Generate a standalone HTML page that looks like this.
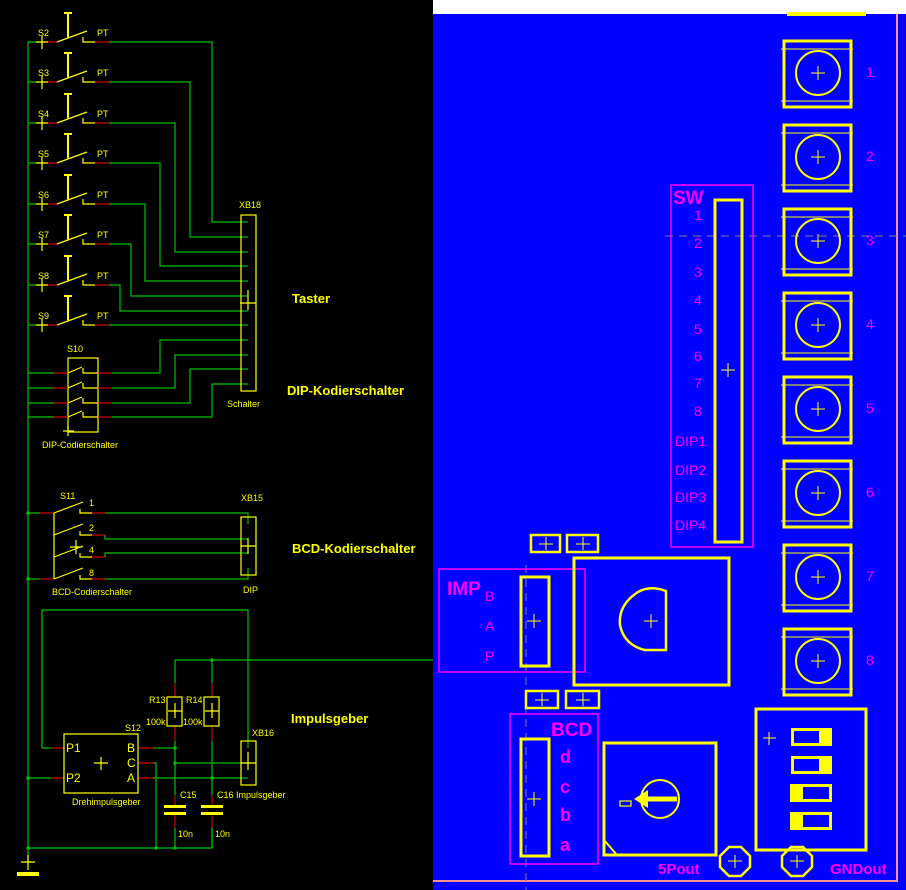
<!DOCTYPE html>
<html><head><meta charset="utf-8"><style>
html,body{margin:0;padding:0;background:#000;}
svg{display:block;}
text{font-family:"Liberation Sans",sans-serif;}
.y{fill:#ffff00;font-size:9px;}
.big{fill:#ffff00;font-size:13px;font-weight:bold;}
.m{fill:#ff00ff;font-size:14px;}
.mb{fill:#ff00ff;font-size:19px;font-weight:bold;}
</style></head><body>
<svg width="906" height="890" viewBox="0 0 906 890" xmlns="http://www.w3.org/2000/svg">
<rect width="906" height="890" fill="#000"/>
<!-- ===== Schematic ===== -->
<g fill="none" stroke-width="1.2">
<!-- ground rail -->
<path d="M28 42 V862" stroke="#00c000"/>
<path d="M28 42 H42" stroke="#00c000"/>
<path d="M28 848 H212 V826" stroke="#00c000"/>
<path d="M28 855 V862" stroke="#d00000"/>
</g>
<rect x="17" y="872" width="22" height="4" fill="#ffff00"/>
<path d="M28 855 V870 M21 862 H35" stroke="#ffff00" stroke-width="1.2"/>

<!-- pushbuttons -->
<g id="pb">
<g stroke-width="1.2" fill="none">
<path d="M28 42 H42" stroke="#00c000"/>
<path d="M42 36 V49 M36 42 H48" stroke="#ffff00"/>
<path d="M48 42 H57" stroke="#d00000"/>
<path d="M57 42 L87 31 M83 37 V42 H95" stroke="#ffff00"/>
<path d="M68 13 V38 M64 13 H72" stroke="#ffff00" stroke-width="2"/>
<path d="M95 42 H109" stroke="#d00000"/>
</g>
</g>
<use href="#pb" y="40"/><use href="#pb" y="81"/><use href="#pb" y="121"/><use href="#pb" y="162"/><use href="#pb" y="202"/><use href="#pb" y="243"/><use href="#pb" y="283"/>
<g class="y">
<text x="38" y="36">S2</text><text x="97" y="36">PT</text>
<text x="38" y="76">S3</text><text x="97" y="76">PT</text>
<text x="38" y="117">S4</text><text x="97" y="117">PT</text>
<text x="38" y="157">S5</text><text x="97" y="157">PT</text>
<text x="38" y="198">S6</text><text x="97" y="198">PT</text>
<text x="38" y="238">S7</text><text x="97" y="238">PT</text>
<text x="38" y="279">S8</text><text x="97" y="279">PT</text>
<text x="38" y="319">S9</text><text x="97" y="319">PT</text>
</g>
<g fill="none" stroke="#00c000" stroke-width="1.2">
<path d="M109 42 H212 V222 H248"/>
<path d="M109 82 H190 V237 H248"/>
<path d="M109 123 H175 V252 H248"/>
<path d="M109 163 H160 V266 H248"/>
<path d="M109 204 H145 V281 H248"/>
<path d="M109 244 H131 V296 H248"/>
<path d="M109 285 H120 V311 H248"/>
<path d="M109 325 H248"/>
<path d="M112 373 H160 V340 H248"/>
<path d="M112 388 H175 V355 H248"/>
<path d="M112 403 H190 V369 H248"/>
<path d="M112 417 H212 V384 H248"/>
<path d="M28 373 H54 M28 388 H54 M28 403 H54 M28 417 H54"/>
</g>
<rect x="241" y="215" width="15" height="176" fill="none" stroke="#ffff00" stroke-width="1.2"/>
<path d="M248 290 V310 M240 303 H256" stroke="#ffff00" stroke-width="1.2"/>
<!-- S10 -->
<rect x="68" y="358" width="30" height="74" fill="none" stroke="#ffff00" stroke-width="1.2"/>
<g stroke-width="1.2" fill="none">
<path d="M54 373 H68 M54 388 H68 M54 403 H68 M54 417 H68 M98 373 H112 M98 388 H112 M98 403 H112 M98 417 H112" stroke="#d00000"/>
<path d="M68 373 L82 367 M83 368 V373 H98 M68 388 L82 382 M83 383 V388 H98 M68 403 L82 397 M83 398 V403 H98 M68 417 L82 411 M83 412 V417 H98 M68 426 V436 M63 431 H74" stroke="#ffff00"/>
</g>
<g class="y">
<text x="67" y="352">S10</text>
<text x="239" y="208">XB18</text>
<text x="227" y="407">Schalter</text>
<text x="42" y="448">DIP-Codierschalter</text>
</g>
<text class="big" x="292" y="303">Taster</text>
<text class="big" x="287" y="395">DIP-Kodierschalter</text>

<!-- S11 BCD -->
<g fill="none" stroke-width="1.2">
<path d="M28 513 H40 M28 579 H40" stroke="#00c000"/>
<path d="M40 513 H54 M40 579 H54 M92 513 H105 M92 535 H105 M92 557 H105 M92 579 H105" stroke="#d00000"/>
<path d="M54 513 V579 M54 513 L83 502 M80 509 V513 H92 M54 535 L83 524 M80 531 V535 H92 M54 557 L83 546 M80 553 V557 H92 M54 579 L83 568 M80 575 V579 H92 M76 540 V554 M70 547 H82" stroke="#ffff00"/>
<path d="M105 513 H248 V524 M105 535 V539 H248 M105 557 V553 H248 M105 579 H248 V568" stroke="#00c000"/>
</g>
<rect x="241" y="517" width="15" height="58" fill="none" stroke="#ffff00" stroke-width="1.2"/>
<path d="M248 538 V554 M241 546 H256" stroke="#ffff00" stroke-width="1.2"/>
<g class="y">
<text x="60" y="499">S11</text>
<text x="89" y="506">1</text><text x="89" y="531">2</text><text x="89" y="553">4</text><text x="89" y="576">8</text>
<text x="241" y="501">XB15</text>
<text x="243" y="593">DIP</text>
<text x="52" y="595">BCD-Codierschalter</text>
</g>
<text class="big" x="292" y="553">BCD-Kodierschalter</text>

<!-- Impulsgeber -->
<g fill="none" stroke-width="1.2">
<path d="M42 748 V610 H248 V748" stroke="#00c000"/>
<path d="M42 748 H51 M28 778 H51" stroke="#00c000"/>
<path d="M51 748 H64 M51 778 H64 M138 748 H153 M138 763 H153 M138 778 H153" stroke="#d00000"/>
<path d="M153 748 H175 M153 763 H156 V848 M153 778 H248 M175 763 H248" stroke="#00c000"/>
<path d="M175 660 H440 M175 660 V683 M212 660 V683 M175 741 V795 M212 741 V795 M175 828 V848 M212 828 V848" stroke="#00c000"/>
<path d="M175 683 V697 M212 683 V697 M175 726 V741 M212 726 V741 M175 795 V806 M212 795 V806 M175 814 V828 M212 814 V828" stroke="#d00000"/>
</g>
<rect x="64" y="734" width="74" height="59" fill="none" stroke="#ffff00" stroke-width="1.2"/>
<rect x="167" y="697" width="15" height="29" fill="none" stroke="#ffff00" stroke-width="1.2"/>
<rect x="204" y="697" width="15" height="29" fill="none" stroke="#ffff00" stroke-width="1.2"/>
<rect x="241" y="741" width="15" height="44" fill="none" stroke="#ffff00" stroke-width="1.2"/>
<path d="M248 752 V770 M241 763 H256 M175 703 V718 M168 711 H182 M212 703 V718 M205 711 H219 M101 757 V770 M94 763 H108" stroke="#ffff00" stroke-width="1.2"/>
<rect x="164" y="805" width="22" height="3" fill="#ffff00"/><rect x="164" y="812" width="22" height="3" fill="#ffff00"/>
<rect x="201" y="805" width="22" height="3" fill="#ffff00"/><rect x="201" y="812" width="22" height="3" fill="#ffff00"/>
<g fill="#00c000"><circle cx="28" cy="778" r="1.8"/><circle cx="175" cy="748" r="1.8"/><circle cx="175" cy="763" r="1.8"/><circle cx="212" cy="778" r="1.8"/><circle cx="212" cy="660" r="1.8"/><circle cx="28" cy="848" r="1.8"/><circle cx="156" cy="848" r="1.8"/><circle cx="175" cy="848" r="1.8"/><circle cx="28" cy="513" r="1.8"/><circle cx="28" cy="579" r="1.8"/></g>
<g class="y">
<text x="149" y="703">R13</text><text x="186" y="703">R14</text>
<text x="146" y="725">100k</text><text x="183" y="725">100k</text>
<text x="125" y="731">S12</text>
<text x="252" y="736">XB16</text>
<text x="180" y="798">C15</text><text x="217" y="798">C16</text>
<text x="236" y="798">Impulsgeber</text>
<text x="178" y="837">10n</text><text x="215" y="837">10n</text>
<text x="72" y="805">Drehimpulsgeber</text>
<text x="66" y="752" style="font-size:12px">P1</text><text x="66" y="782" style="font-size:12px">P2</text>
<text x="127" y="752" style="font-size:12px">B</text><text x="127" y="767" style="font-size:12px">C</text><text x="127" y="782" style="font-size:12px">A</text>
</g>
<text class="big" x="291" y="723">Impulsgeber</text>

<!-- ===== PCB ===== -->
<rect x="433" y="0" width="473" height="14" fill="#fff"/>
<rect x="433" y="14" width="473" height="876" fill="#0000ff"/>
<path d="M897 14 V881 H433" stroke="#ff9090" stroke-width="2" fill="none"/>
<rect x="787" y="12" width="79" height="4" fill="#ffff00"/>
<path d="M665 236 H906" stroke="#808080" stroke-width="1" stroke-dasharray="8,6"/>
<path d="M526 565 V890" stroke="#808080" stroke-width="1" stroke-dasharray="8,6"/>
<g id="btn" fill="none" stroke="#ffff00">
<rect x="784" y="41" width="67" height="66" stroke-width="3"/>
<path d="M781 49 H853 M781 101 H853" stroke-width="1"/>
<circle cx="818" cy="73" r="22" stroke-width="2"/>
<path d="M818 66 V80 M811 73 H825" stroke-width="1"/>
</g>
<use href="#btn" y="84"/><use href="#btn" y="168"/><use href="#btn" y="252"/><use href="#btn" y="336"/><use href="#btn" y="420"/><use href="#btn" y="504"/><use href="#btn" y="588"/>
<g class="m">
<text x="866" y="77">1</text><text x="866" y="161">2</text><text x="866" y="245">3</text><text x="866" y="329">4</text><text x="866" y="413">5</text><text x="866" y="497">6</text><text x="866" y="581">7</text><text x="866" y="665">8</text>
</g>
<!-- SW -->
<rect x="671" y="185" width="82" height="362" fill="none" stroke="#ff00ff" stroke-width="1.5"/>
<rect x="715" y="200" width="27" height="342" fill="none" stroke="#ffff00" stroke-width="3"/>
<path d="M728 363 V377 M721 370 H735" stroke="#ffff00"/>
<text class="mb" x="673" y="204">SW</text>
<g class="m">
<text x="694" y="220">1</text><text x="694" y="248">2</text><text x="694" y="277">3</text><text x="694" y="305">4</text><text x="694" y="334">5</text><text x="694" y="361">6</text><text x="694" y="388">7</text><text x="694" y="416">8</text>
<text x="675" y="446">DIP1</text><text x="675" y="475">DIP2</text><text x="675" y="502">DIP3</text><text x="675" y="530">DIP4</text>
</g>
<!-- small pads -->
<g fill="none" stroke="#ffff00" stroke-width="2.5">
<rect x="531" y="535" width="29" height="17"/><rect x="567" y="535" width="31" height="17"/>
<rect x="526" y="691" width="32" height="17"/><rect x="566" y="691" width="33" height="17"/>
</g>
<path d="M546 537 V550 M539 544 H553 M583 537 V550 M576 544 H590 M542 693 V706 M535 700 H549 M583 693 V706 M576 700 H590" stroke="#ffff00"/>
<!-- IMP -->
<rect x="439" y="569" width="146" height="103" fill="none" stroke="#ff00ff" stroke-width="1.5"/>
<rect x="521" y="577" width="28" height="89" fill="none" stroke="#ffff00" stroke-width="3"/>
<path d="M534 614 V628 M527 621 H541" stroke="#ffff00"/>
<text class="mb" x="447" y="595">IMP</text>
<g class="m"><text x="485" y="601">B</text><text x="485" y="631">A</text><text x="485" y="661">P</text></g>
<rect x="574" y="558" width="155" height="127" fill="none" stroke="#ffff00" stroke-width="3"/>
<path d="M666 591 Q650 585 638 592 Q618 605 620 625 Q624 645 645 650 L666 650 Z" fill="none" stroke="#ffff00" stroke-width="2.5"/>
<path d="M651 614 V628 M644 621 H658" stroke="#ffff00"/>
<!-- BCD -->
<rect x="510" y="714" width="88" height="150" fill="none" stroke="#ff00ff" stroke-width="1.5"/>
<rect x="521" y="739" width="28" height="117" fill="none" stroke="#ffff00" stroke-width="3"/>
<path d="M534 792 V806 M527 799 H541" stroke="#ffff00"/>
<text class="mb" x="551" y="736">BCD</text>
<g style="fill:#ff00ff;font-size:18px;font-weight:bold"><text x="560" y="763">d</text><text x="560" y="793">c</text><text x="560" y="821">b</text><text x="560" y="851">a</text></g>
<rect x="604" y="743" width="112" height="112" fill="none" stroke="#ffff00" stroke-width="3"/>
<path d="M604 840 L617 855" stroke="#ffff00" stroke-width="2"/>
<circle cx="660" cy="799" r="19" fill="none" stroke="#ffff00" stroke-width="2"/>
<path d="M642 799 H677" stroke="#ffff00" stroke-width="5"/>
<path d="M634 799 L648 790 L648 808 Z" fill="#ffff00"/>
<rect x="620" y="801" width="11" height="5" fill="none" stroke="#ffff00" stroke-width="1.2"/>
<!-- DIP right -->
<rect x="756" y="709" width="110" height="141" fill="none" stroke="#ffff00" stroke-width="3"/>
<path d="M769 732 V745 M763 738 H776" stroke="#ffff00"/>
<g fill="#ffff00">
<rect x="791" y="728" width="41" height="18"/><rect x="791" y="756" width="41" height="18"/><rect x="790" y="784" width="42" height="18"/><rect x="790" y="812" width="42" height="18"/>
</g>
<g fill="#0000ff"><rect x="794" y="731" width="25" height="12"/><rect x="794" y="759" width="25" height="12"/><rect x="803" y="787" width="26" height="12"/><rect x="803" y="815" width="26" height="12"/></g>
<polygon points="729,847 741,847 750,856 750,867 741,876 729,876 720,867 720,856" fill="none" stroke="#ffff00" stroke-width="2.5"/>
<polygon points="791,847 803,847 812,856 812,867 803,876 791,876 782,867 782,856" fill="none" stroke="#ffff00" stroke-width="2.5"/>
<path d="M735 855 V868 M728 861 H742 M797 855 V868 M790 861 H804" stroke="#ffff00"/>
<text x="658" y="874" style="fill:#ff00ff;font-size:15px;font-weight:bold">5Pout</text>
<text x="830" y="874" style="fill:#ff00ff;font-size:15px;font-weight:bold">GNDout</text>
</svg>
</body></html>
